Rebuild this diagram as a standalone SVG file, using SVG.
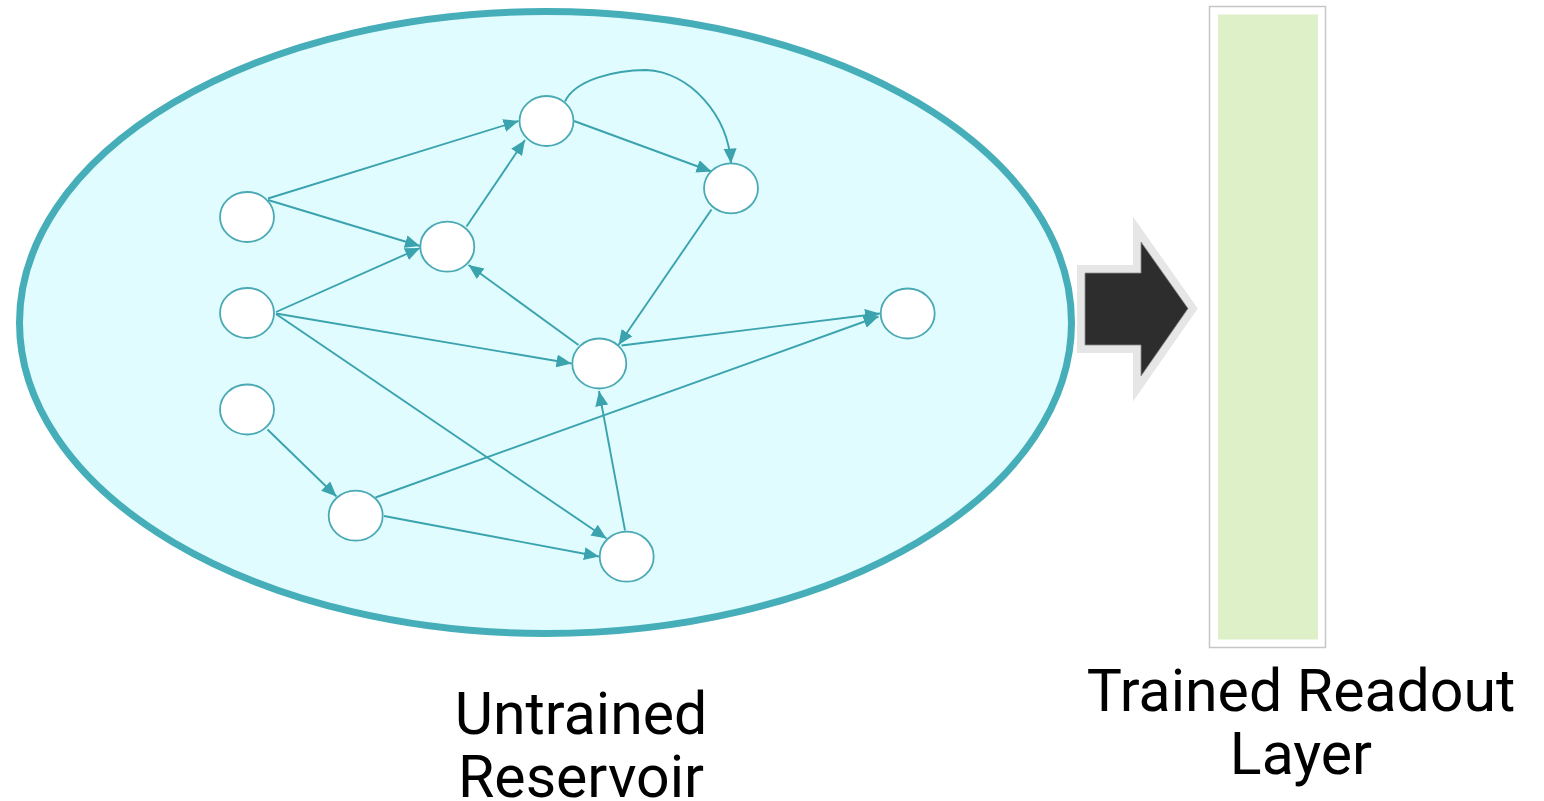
<svg xmlns="http://www.w3.org/2000/svg" width="1544" height="801" viewBox="0 0 1544 801">
  <defs>
    <marker id="arrow" markerUnits="userSpaceOnUse" markerWidth="17" markerHeight="14" refX="15" refY="6.5" orient="auto">
      <path d="M0,0 L15,6.5 L0,13 z" fill="#3aa3ae"/>
    </marker>
    <style>
      .node { fill: #ffffff; stroke: #4aa9b4; stroke-width: 1.8; }
      .edge { fill: none; stroke: #3aa3ae; stroke-width: 1.9; marker-end: url(#arrow); }
      .label { font-family: Roboto, "Liberation Sans", sans-serif; font-size: 59px; fill: #000000; text-anchor: middle; }
    </style>
  </defs>
  <rect width="1544" height="801" fill="#ffffff"/>

  <!-- reservoir boundary -->
  <ellipse id="reservoir" cx="545.5" cy="322.5" rx="526" ry="311" fill="#e0fcff" stroke="#46aeb9" stroke-width="7"/>

  <!-- connectors -->
  <g id="edges">
    <path class="edge" d="M268,198.5 L518.5,121"/>
    <path class="edge" d="M268,200 L420,246"/>
    <path class="edge" d="M276,312 L420,248"/>
    <path class="edge" d="M276,313.5 L571.5,363.5"/>
    <path class="edge" d="M276,314 L606.5,538.5"/>
    <path class="edge" d="M466.5,226.5 L525,140"/>
    <path class="edge" d="M578.5,345 L468.5,265"/>
    <path class="edge" d="M574,121 L711.5,171.5"/>
    <path class="edge" d="M565,101.5 C575,80 615,70 646,70 C690,72 728,115 731,163.5"/>
    <path class="edge" d="M711.5,209.5 L618.5,345"/>
    <path class="edge" d="M621.5,345.5 L880,313.5"/>
    <path class="edge" d="M375.5,497.5 L878.5,316.5"/>
    <path class="edge" d="M267.5,429.5 L336.5,496.5"/>
    <path class="edge" d="M384,516 L599,556.5"/>
    <path class="edge" d="M625,530.5 L599,391"/>
  </g>

  <!-- reservoir units -->
  <g id="n1"><ellipse class="node" cx="247" cy="217" rx="27" ry="25"/></g>
  <g id="n2"><ellipse class="node" cx="247" cy="313" rx="27" ry="25"/></g>
  <g id="n3"><ellipse class="node" cx="247" cy="409.5" rx="27" ry="25"/></g>
  <g id="n4"><ellipse class="node" cx="447.3" cy="246.7" rx="27" ry="25"/></g>
  <g id="n5"><ellipse class="node" cx="546.5" cy="121" rx="27" ry="25"/></g>
  <g id="n6"><ellipse class="node" cx="731" cy="188.3" rx="27" ry="25"/></g>
  <g id="n7"><ellipse class="node" cx="599.3" cy="363.5" rx="27" ry="25"/></g>
  <g id="n8"><ellipse class="node" cx="907.7" cy="313.5" rx="27" ry="25"/></g>
  <g id="n9"><ellipse class="node" cx="355.7" cy="515.7" rx="27" ry="25"/></g>
  <g id="n10"><ellipse class="node" cx="626.7" cy="556.7" rx="27" ry="25"/></g>

  <!-- block arrow toward readout -->
  <g id="block-arrow">
    <polygon points="1085,273 1141,273 1141,242 1188,308.5 1141,376 1141,345 1085,345" fill="#e6e6e6" stroke="#e6e6e6" stroke-width="16" stroke-linejoin="miter" stroke-miterlimit="10"/>
    <polygon points="1085,273 1141,273 1141,242 1188,308.5 1141,376 1141,345 1085,345" fill="#2d2d2d" stroke="#8a8a8a" stroke-width="0.8"/>
  </g>

  <!-- readout layer -->
  <g id="readout">
    <rect x="1209.5" y="6.5" width="116" height="641" fill="#ffffff" stroke="#c6c6c6" stroke-width="1.5"/>
    <rect x="1218" y="14.5" width="100" height="625" fill="#def0c7"/>
  </g>

  <!-- captions -->
  <g id="caption-reservoir">
    <text class="label" x="581" y="734">Untrained</text>
    <text class="label" x="581" y="797">Reservoir</text>
  </g>
  <g id="caption-readout">
    <text class="label" x="1301" y="711">Trained Readout</text>
    <text class="label" x="1301" y="774">Layer</text>
  </g>
</svg>
